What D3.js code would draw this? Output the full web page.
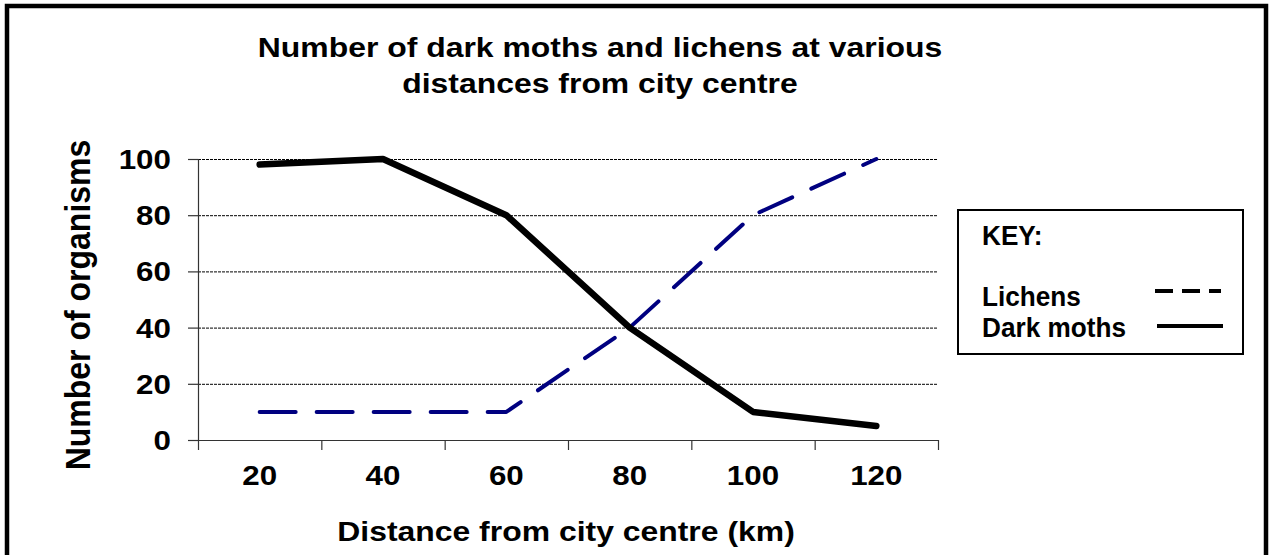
<!DOCTYPE html>
<html>
<head>
<meta charset="utf-8">
<script src="https://cdn.jsdelivr.net/npm/d3@7"></script>
<style>
  html, body { margin: 0; padding: 0; background: #fff; }
  svg { display: block; font-family: "Liberation Sans", Arial, sans-serif; }
</style>
</head>
<body>
<svg id="chart" width="1273" height="555"></svg>
<script>
// data
var distances = ["20", "40", "60", "80", "100", "120"];
var lichens = [10, 10, 10, 40, 80, 100];
var darkMoths = [98, 100, 80, 40, 10, 5];
var yTicks = [0, 20, 40, 60, 80, 100];
var titleLines = ["Number of dark moths and lichens at various", "distances from city centre"];
var keyLabels = ["Lichens", "Dark moths"];

var svg = d3.select("#chart");
var stretch = 1.12; // the source text is a little wide

var x = d3.scaleBand().domain(distances).range([198, 938]);
var y = d3.scaleLinear().domain([0, 100]).range([440, 159]);

function txt(g, s, px, py, size, anchor, rot, sx){
  return g.append("text")
    .attr("transform", "translate(" + px + "," + py + ") scale(" + (sx || stretch) + ",1)" + (rot ? " rotate(" + rot + ")" : ""))
    .attr("text-anchor", anchor || "middle")
    .style("font-size", size + "px")
    .style("font-weight", "bold")
    .style("fill", "#000")
    .text(s);
}

// outer frame
svg.append("rect")
  .attr("x", 7).attr("y", 6).attr("width", 1259).attr("height", 600)
  .style("fill", "none").style("stroke", "#000").style("stroke-width", 4.5);

// title
titleLines.forEach(function(t, i){
  txt(svg, t, 600, 57 + i * 36, 28.5);
});

// gridlines
svg.append("g").selectAll("line")
  .data(yTicks.filter(function(d){ return d > 0; }))
  .enter().append("line")
  .attr("x1", 198).attr("x2", 938)
  .attr("y1", function(d){ return y(d) + 0.5; })
  .attr("y2", function(d){ return y(d) + 0.5; })
  .style("stroke", "#000").style("stroke-width", 1)
  .style("stroke-dasharray", "3,1");

// y axis
var yAxis = svg.append("g");
yAxis.append("line")
  .attr("x1", 198.5).attr("x2", 198.5).attr("y1", y(100)).attr("y2", y(0))
  .style("stroke", "#333").style("stroke-width", 1.2);
yAxis.selectAll("line.tick").data(yTicks).enter().append("line")
  .attr("class", "tick")
  .attr("x1", 188).attr("x2", 198.5)
  .attr("y1", function(d){ return y(d) + 0.5; })
  .attr("y2", function(d){ return y(d) + 0.5; })
  .style("stroke", "#333").style("stroke-width", 1.2);
yTicks.forEach(function(d){
  txt(yAxis, d, 171, y(d) + 10, 28, "end");
});

// x axis, ticks between the categories
var xAxis = svg.append("g");
xAxis.append("line")
  .attr("x1", x.range()[0]).attr("x2", x.range()[1] + 1)
  .attr("y1", 440.5).attr("y2", 440.5)
  .style("stroke", "#333").style("stroke-width", 1.2);
var bounds = distances.map(function(d){ return x(d); }).concat([x.range()[1]]);
xAxis.selectAll("line.tick").data(bounds).enter().append("line")
  .attr("class", "tick")
  .attr("x1", function(d){ return d + 0.5; }).attr("x2", function(d){ return d + 0.5; })
  .attr("y1", 440).attr("y2", 450)
  .style("stroke", "#333").style("stroke-width", 1.2);
distances.forEach(function(d){
  txt(xAxis, d, x(d) + x.bandwidth() / 2, 485, 28);
});

// axis titles
txt(svg, "Distance from city centre (km)", 566, 541, 28.5);
txt(svg, "Number of organisms", 90, 305, 32, "middle", -90);

// series
var line = d3.line()
  .x(function(d, i){ return x(distances[i]) + x.bandwidth() / 2; })
  .y(function(d){ return y(d); });

svg.append("path").datum(lichens)
  .attr("d", line)
  .style("fill", "none").style("stroke", "#000080").style("stroke-width", 4)
  .style("stroke-dasharray", "36,21").style("stroke-linecap", "round")
  .style("stroke-linejoin", "round");

svg.append("path").datum(darkMoths)
  .attr("d", line)
  .style("fill", "none").style("stroke", "#000").style("stroke-width", 6.5)
  .style("stroke-linecap", "round").style("stroke-linejoin", "round");

// key box
var key = svg.append("g");
key.append("rect")
  .attr("x", 958).attr("y", 210).attr("width", 285).attr("height", 144)
  .style("fill", "#fff").style("stroke", "#000").style("stroke-width", 2);
txt(key, "KEY:", 982, 245, 27, "start", 0, 0.97);
keyLabels.forEach(function(t, i){
  txt(key, t, 982, 306 + i * 31, 27, "start", 0, 0.97);
});
key.append("line")
  .attr("x1", 1155).attr("x2", 1221).attr("y1", 291).attr("y2", 291)
  .style("stroke", "#000").style("stroke-width", 4).style("stroke-dasharray", "18,9");
key.append("line")
  .attr("x1", 1157).attr("x2", 1223).attr("y1", 326).attr("y2", 326)
  .style("stroke", "#000").style("stroke-width", 4);
</script>
</body>
</html>
